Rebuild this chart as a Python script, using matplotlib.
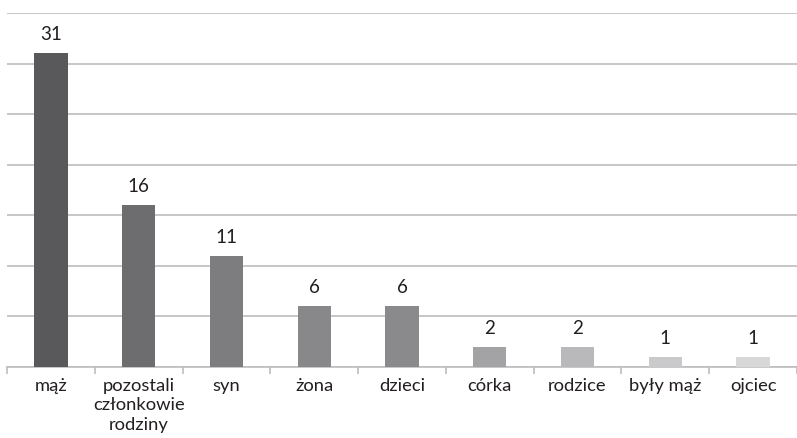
import numpy as np
import matplotlib
matplotlib.use("Agg")
import matplotlib.pyplot as plt

categories = ["mąż", "pozostali\nczłonkowie\nrodziny", "syn", "żona", "dzieci",
              "córka", "rodzice", "były mąż", "ojciec"]
values = [31, 16, 11, 6, 6, 2, 2, 1, 1]
colors = ["#59595b", "#6d6d70", "#7d7d80", "#88888b", "#8a8a8d",
          "#a3a3a5", "#b9b9bb", "#cacacc", "#d8d8d9"]

plt.rcParams["font.family"] = ["Lato", "DejaVu Sans"]

fig = plt.figure(figsize=(7.97, 4.38), dpi=100)
ax = fig.add_axes([7 / 797, 1 - 367 / 438, 790 / 797, 354 / 438])

x = np.arange(len(categories))
bars = ax.bar(x, values, width=0.38, color=colors, zorder=3)
for xi, v in zip(x, values):
    ax.text(xi, v + 1.0, str(v), ha="center", va="bottom", fontsize=13.5, color="#231f20")

ax.set_xlim(-0.5, len(categories) - 0.5)
ax.set_ylim(0, 35)
ax.set_yticks(np.arange(0, 36, 5))
ax.yaxis.grid(True, color="#bdbdbd", linewidth=1.2, zorder=0)
ax.tick_params(axis="y", length=0, labelleft=False)

# tick marks sit between the categories, labels under the bars
ax.set_xticks(np.arange(-0.5, len(categories), 1.0))
ax.set_xticklabels([])
ax.set_xticks(x, minor=True)
ax.set_xticklabels(categories, minor=True, fontsize=13.2, color="#231f20", linespacing=1.25)
ax.tick_params(axis="x", which="major", length=5, color="#bdbdbd", width=1.2)
ax.tick_params(axis="x", which="minor", length=0, pad=8)

for s in ["top", "right", "left"]:
    ax.spines[s].set_visible(False)
ax.spines["bottom"].set_color("#bdbdbd")
ax.spines["bottom"].set_linewidth(1.2)

fig.savefig("out.png", dpi=100)
